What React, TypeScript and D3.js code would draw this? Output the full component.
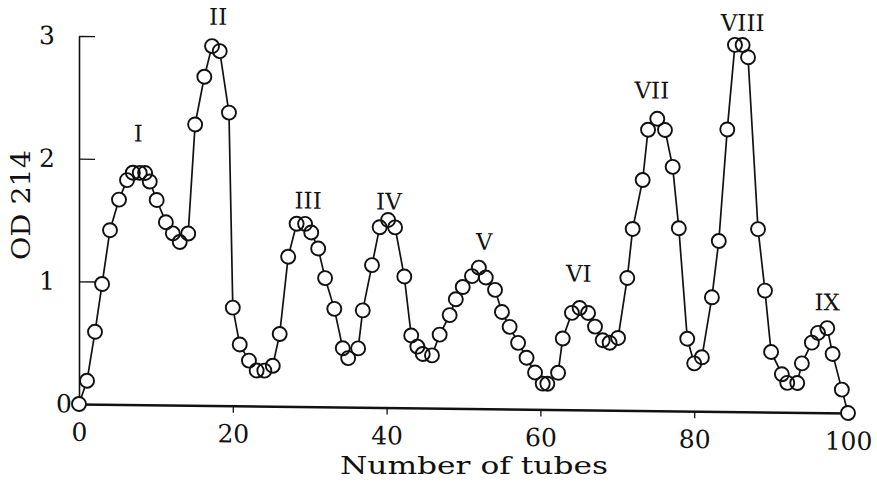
import React, { useEffect, useRef } from "react";
import * as d3 from "d3";

// tube number of each fraction
const tubes = [
  0, 1.04, 2.08, 3.0, 4.03, 5.2, 6.24, 7.0, 7.9, 8.6,
  9.2, 10.1, 11.3, 12.2, 13.1, 14.2, 15.1, 16.3, 17.3, 18.3,
  19.5, 20.0, 20.9, 22.1, 23.1, 24.1, 25.2, 26.1, 27.2, 28.3,
  29.4, 30.2, 31.1, 32.0, 33.2, 34.3, 35.0, 36.3, 36.9, 38.1,
  39.1, 40.2, 41.1, 42.3, 43.2, 44.0, 44.7, 45.9, 46.9, 48.2,
  49.0, 49.9, 51.1, 52.0, 52.9, 54.1, 55.0, 56.0, 57.1, 58.2,
  59.3, 60.3, 60.9, 62.3, 62.9, 64.1, 65.1, 66.2, 67.1, 68.1,
  69.0, 70.1, 71.3, 72.0, 73.3, 74.0, 75.2, 76.2, 77.2, 78.0,
  79.1, 80.0, 81.0, 82.3, 83.2, 84.3, 85.3, 86.3, 87.0, 88.3,
  89.2, 90.0, 91.4, 92.1, 93.4, 94.0, 95.3, 96.1, 97.3, 98.0,
  99.2, 100,
];

// absorbance at 214 nm
const od = [
  0, 0.19, 0.59, 0.98, 1.42, 1.67, 1.83, 1.89, 1.89, 1.89,
  1.82, 1.67, 1.49, 1.4, 1.33, 1.4, 2.29, 2.68, 2.93, 2.89,
  2.39, 0.8, 0.5, 0.37, 0.29, 0.29, 0.33, 0.59, 1.22, 1.49,
  1.49, 1.42, 1.29, 1.05, 0.8, 0.48, 0.4, 0.48, 0.79, 1.16,
  1.47, 1.53, 1.47, 1.07, 0.59, 0.5, 0.44, 0.43, 0.6, 0.76,
  0.89, 0.99, 1.08, 1.15, 1.07, 0.97, 0.79, 0.67, 0.54, 0.42,
  0.3, 0.21, 0.21, 0.3, 0.58, 0.79, 0.83, 0.79, 0.68, 0.57,
  0.55, 0.59, 1.08, 1.48, 1.88, 2.29, 2.38, 2.29, 1.99, 1.49,
  0.59, 0.39, 0.44, 0.93, 1.39, 2.3, 2.99, 2.99, 2.89, 1.49,
  0.99, 0.49, 0.31, 0.24, 0.24, 0.4, 0.57, 0.65, 0.69, 0.48,
  0.19, 0,
];

// peak names and where their labels sit (data units)
const peakNames = ["I", "II", "III", "IV", "V", "VI", "VII", "VIII", "IX"];
const peakLabelTube = [7.7, 18.1, 29.8, 40.3, 52.7, 65.0, 74.5, 86.3, 97.3];
const peakLabelOD = [2.21, 3.17, 1.68, 1.68, 1.36, 1.11, 2.61, 3.17, 0.9];

const xTicks = [0, 20, 40, 60, 80, 100];
const yTicks = [0, 1, 2, 3];

const FONT = "'DejaVu Serif', serif";

const App = () => {
  const svgRef = useRef<SVGSVGElement | null>(null);

  useEffect(() => {
    const W = 877,
      H = 487;
    const margin = { top: 36, left: 79 };
    const width = 769,
      height = 368;

    const svg = d3.select(svgRef.current).attr("width", W).attr("height", H);
    svg.selectAll("*").remove();
    svg.append("rect").attr("width", W).attr("height", H).attr("fill", "white");

    const x = d3.scaleLinear().domain([0, 100]).range([0, width]);
    const y = d3.scaleLinear().domain([0, 3]).range([height, 0]);

    // the scanned plot slopes slightly downward to the right
    const g = svg
      .append("g")
      .attr("transform", `translate(${margin.left},${margin.top}) skewY(0.67)`);

    // x axis
    const xAxis = g
      .append("g")
      .attr("transform", `translate(0,${height})`)
      .call(
        d3
          .axisBottom(x)
          .tickValues(xTicks)
          .tickSize(7)
          .tickSizeOuter(0)
          .tickPadding(12)
          .tickFormat(d3.format("d"))
      );
    xAxis.select(".domain").attr("stroke", "#111").attr("stroke-width", 2.6);
    xAxis.selectAll(".tick line").attr("stroke", "#111").attr("stroke-width", 1.3);
    xAxis
      .selectAll(".tick text")
      .attr("fill", "#111")
      .style("font-family", FONT)
      .style("font-size", "25px");

    // y axis, ticks pointing inward
    const yAxis = g.append("g").call(
      d3
        .axisLeft(y)
        .tickValues(yTicks)
        .tickSize(-16)
        .tickSizeOuter(0)
        .tickPadding(24)
        .tickFormat(d3.format("d"))
    );
    yAxis.select(".domain").attr("stroke", "#111").attr("stroke-width", 1.6);
    yAxis.selectAll(".tick line").attr("stroke", "#111").attr("stroke-width", 1.3);
    yAxis.selectAll(".tick").filter((d: any) => d === 0).select("line").remove();
    yAxis
      .selectAll(".tick text")
      .attr("fill", "#111")
      .attr("x", (d: any) => (d === 0 ? -7 : -24))
      .style("font-family", FONT)
      .style("font-size", "25px");

    const points = tubes.map((t, i) => ({ t, v: od[i] }));

    const line = d3
      .line<{ t: number; v: number }>()
      .x((d) => x(d.t))
      .y((d) => y(d.v));

    g.append("path")
      .datum(points)
      .attr("d", line)
      .attr("fill", "none")
      .attr("stroke", "#111")
      .attr("stroke-width", 1.7);

    // white discs hide the line inside each marker, then the rings on top
    g.append("g")
      .selectAll("circle")
      .data(points)
      .join("circle")
      .attr("cx", (d) => x(d.t))
      .attr("cy", (d) => y(d.v))
      .attr("r", 7)
      .attr("fill", "white");

    g.append("g")
      .selectAll("circle")
      .data(points)
      .join("circle")
      .attr("cx", (d) => x(d.t))
      .attr("cy", (d) => y(d.v))
      .attr("r", 7)
      .attr("fill", "none")
      .attr("stroke", "#111")
      .attr("stroke-width", 1.9);

    // peak labels
    g.append("g")
      .selectAll("text")
      .data(peakNames)
      .join("text")
      .attr("x", (d, i) => x(peakLabelTube[i]))
      .attr("y", (d, i) => y(peakLabelOD[i]))
      .attr("text-anchor", "middle")
      .attr("dominant-baseline", "central")
      .attr("fill", "#111")
      .style("font-family", FONT)
      .style("font-size", "23px")
      .text((d) => d);

    // axis titles
    svg
      .append("text")
      .attr("x", 474)
      .attr("y", 474)
      .attr("text-anchor", "middle")
      .attr("textLength", 268)
      .attr("lengthAdjust", "spacingAndGlyphs")
      .attr("fill", "#111")
      .style("font-family", FONT)
      .style("font-size", "24px")
      .text("Number of tubes");

    svg
      .append("text")
      .attr("transform", "translate(30,205) rotate(-90)")
      .attr("text-anchor", "middle")
      .attr("textLength", 110)
      .attr("lengthAdjust", "spacingAndGlyphs")
      .attr("fill", "#111")
      .style("font-family", FONT)
      .style("font-size", "26px")
      .text("OD 214");
  }, []);

  return (
    <div>
      <svg
        ref={svgRef}
        style={{ position: "absolute", left: 0, top: 0, display: "block" }}
      />
    </div>
  );
};

export default App;
